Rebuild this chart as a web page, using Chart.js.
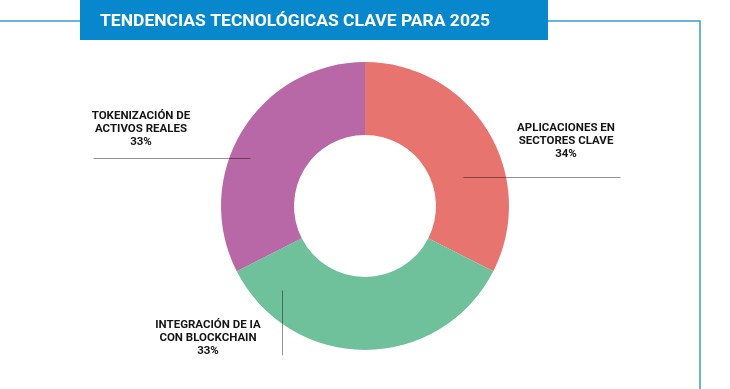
<!DOCTYPE html>
<html>
<head>
<meta charset="utf-8">
<script src="https://cdn.jsdelivr.net/npm/chart.js@4"></script>
<style>
  html, body { margin: 0; padding: 0; background: #fff; }
  #wrap { width: 730px; height: 389px; position: relative; }
</style>
</head>
<body>
<div id="wrap"><canvas id="trendChart" width="730" height="389"></canvas></div>
<script>
const title = "TENDENCIAS TECNOLÓGICAS CLAVE PARA 2025";

// segments, clockwise from the top
const categories = [
    ["APLICACIONES EN", "SECTORES CLAVE"],
    ["INTEGRACIÓN DE IA", "CON BLOCKCHAIN"],
    ["TOKENIZACIÓN DE", "ACTIVOS REALES"]
];
const shares = [32.5, 35, 32.5];          // share of the ring as drawn
const shareLabels = ["34%", "33%", "33%"]; // printed percentages
const colors = ["#E8746F", "#6FC19C", "#B868A7"];

// label text centre + leader line (drawn by the plugin)
const calloutPos = [
    { x: 566, y: 128, line: [463, 177, 620, 177] },
    { x: 208, y: 325, line: [282, 290, 282, 355] },
    { x: 141, y: 116, line: [93, 158, 250, 158] }
];

// frame, title bar and callouts
const decorations = {
    id: "decorations",
    beforeDraw(chart) {
        const ctx = chart.ctx;
        ctx.save();
        ctx.strokeStyle = "#3A9BD0";
        ctx.lineWidth = 1.5;
        ctx.beginPath();
        ctx.moveTo(0, 21);
        ctx.lineTo(700, 21);
        ctx.lineTo(700, 389);
        ctx.stroke();

        ctx.fillStyle = "#0788CC";
        ctx.fillRect(80, 0, 468, 40);

        ctx.fillStyle = "#fff";
        ctx.font = "bold 17px Roboto";
        ctx.textBaseline = "middle";
        const w = ctx.measureText(title).width;
        ctx.translate(100, 22);
        ctx.scale(390 / w, 1);
        ctx.fillText(title, 0, 0);
        ctx.restore();
    },
    afterDraw(chart) {
        const ctx = chart.ctx;
        ctx.save();
        ctx.strokeStyle = "rgba(0,0,0,0.42)";
        ctx.lineWidth = 1;
        ctx.fillStyle = "#151515";
        ctx.font = "bold 11.5px Roboto";
        ctx.textAlign = "center";
        ctx.textBaseline = "middle";
        calloutPos.forEach((p, i) => {
            const lines = categories[i].concat([shareLabels[i]]);
            lines.forEach((t, j) => ctx.fillText(t, p.x, p.y + j * 13));
            const l = p.line;
            ctx.beginPath();
            ctx.moveTo(l[0] + 0.5, l[1] + 0.5);
            ctx.lineTo(l[2] + 0.5, l[3] + 0.5);
            ctx.stroke();
        });
        ctx.restore();
    }
};

new Chart(document.getElementById("trendChart"), {
    type: "doughnut",
    data: {
        labels: categories.map(c => c.join(" ")),
        datasets: [{
            data: shares,
            backgroundColor: colors,
            borderWidth: 0
        }]
    },
    options: {
        responsive: false,
        animation: false,
        cutout: "49.3%",
        layout: { padding: { top: 62, bottom: 39 } },
        plugins: {
            legend: { display: false },
            tooltip: { enabled: false }
        }
    },
    plugins: [decorations]
});
</script>
</body>
</html>
